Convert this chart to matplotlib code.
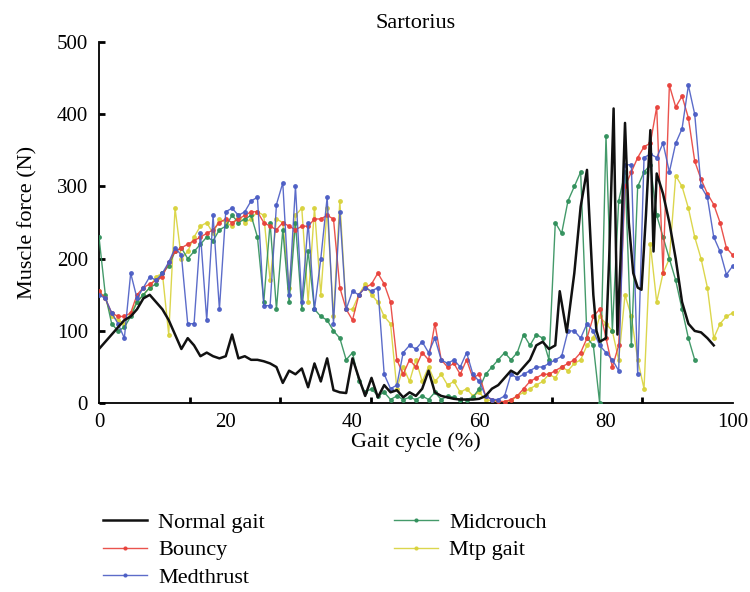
import numpy as np
import matplotlib
matplotlib.use("Agg")
import matplotlib.pyplot as plt

plt.rcParams['font.family'] = ['Liberation Serif', 'DejaVu Serif']

title = "Sartorius"
xlabel = "Gait cycle (%)"
ylabel = "Muscle force (N)"
series_names = ["Normal gait", "Bouncy", "Medthrust", "Midcrouch", "Mtp gait"]
series_colors = ["#111111", "#e8403a", "#4a5cc4", "#2f8f5a", "#d8d23a"]

# Normal gait (irregular sampling in the swing burst)
normal_x = list(range(0, 73)) + [72.7, 73.8, 75, 76, 77, 78, 78.5, 79, 80, 80.5, 81.2, 81.8,
                                 82.3, 83, 83.6, 84.3, 85, 85.6, 86.3, 87, 87.5, 88, 89, 90,
                                 91, 92, 93, 94, 95, 96, 97]
normal_y = [75, 85, 95, 105, 115, 120, 130, 145, 150, 140, 130, 115, 95, 75, 90, 80, 65, 70,
            65, 62, 65, 95, 62, 65, 60, 60, 58, 55, 50, 28, 45, 40, 48, 22, 55, 30, 62, 18,
            15, 14, 62, 35, 10, 35, 8, 25, 15, 18, 8, 15, 10, 20, 45, 15, 10, 8, 6, 5, 5, 5,
            6, 10, 20, 25, 35, 45, 40, 50, 60, 80, 85, 75, 80,
            155, 98, 180, 272, 323, 150, 100, 85, 90, 200, 408, 95,
            200, 388, 250, 180, 160, 157, 260, 378, 210, 318, 290, 250,
            200, 140, 110, 100, 98, 90, 80]

pct = list(range(0, 101))

bouncy = [155, 145, 125, 120, 120, 125, 150, 160, 165, 170, 175, 195, 210, 215, 220, 225,
          230, 235, 240, 250, 255, 250, 255, 260, 265, 265, 250, 245, 240, 250, 245, 240,
          245, 245, 255, 255, 260, 255, 160, 130, 115, 150, 160, 165, 180, 165, 140, 60,
          40, 60, 50, 70, 60, 110, 60, 50, 55, 40, 60, 35, 40, 10, 5, 3, 2, 5, 10, 20, 30,
          35, 40, 40, 45, 50, 55, 60, 70, 90, 120, 130, 90, 50, 80, 300, 320, 340, 355,
          360, 410, 180, 440, 410, 425, 395, 335, 310, 290, 275, 250, 215, 205]

medthrust = [150, 145, 125, 110, 90, 180, 145, 160, 175, 170, 180, 195, 215, 205, 110, 110,
             235, 115, 260, 130, 265, 270, 260, 265, 280, 285, 135, 135, 275, 305, 150, 300,
             140, 250, 130, 200, 285, 110, 265, 130, 155, 150, 160, 155, 160, 40, 20, 25, 70,
             80, 75, 85, 70, 90, 60, 55, 60, 50, 70, 40, 30, 10, 5, 5, 10, 40, 35, 40, 45, 50,
             50, 55, 60, 65, 100, 100, 90, 110, 100, 80, 70, 60, 45, 330, 330, 40, 340, 345,
             340, 360, 320, 360, 380, 440, 400, 300, 285, 230, 210, 178, 190]

midcrouch = [230, 150, 110, 100, 105, 120, 140, 150, 160, 165, 180, 190, 210, 215, 200, 210,
             220, 230, 225, 240, 245, 260, 250, 255, 260, 230, 140, 250, 130, 240, 140, 250,
             130, 210, 130, 120, 115, 100, 90, 60, 70, 30, 15, 20, 10, 15, 5, 10, 5, 8, 5,
             10, 5, 15, 5, 10, 8, 5, 5, 8, 20, 40, 50, 60, 70, 60, 70, 95, 80, 95, 90, 60,
             250, 235, 280, 300, 320, 90, 80, 0, 370, 100, 280, 320, 80, 300, 320, 330, 260,
             230, 200, 170, 130, 90, 60]

mtp = [155, 145, 120, 115, 110, 125, 140, 150, 160, 175, 180, 95, 270, 200, 210, 230, 245,
       250, 235, 255, 250, 245, 260, 250, 255, 265, 260, 170, 255, 250, 160, 260, 270, 140,
       270, 150, 270, 120, 280, 130, 130, 150, 165, 150, 140, 120, 110, 20, 50, 30, 60, 30,
       50, 30, 40, 25, 30, 15, 20, 10, 15, 5, 3, 2, 2, 3, 10, 15, 20, 25, 30, 40, 35, 50,
       45, 55, 60, 80, 90, 120, 110, 100, 60, 150, 120, 60, 20, 220, 140, 180, 200, 315,
       300, 270, 230, 200, 160, 90, 110, 120, 125]

fig = plt.figure(figsize=(7.5, 5.92), dpi=100)
ax = fig.add_axes([0.132, 0.319, 0.845, 0.61])

handles = []
h, = ax.plot(normal_x, normal_y, color=series_colors[0], lw=1.8, zorder=6)
handles.append(h)
colored = [bouncy, medthrust, midcrouch, mtp]
zs = [4, 5, 3, 2]
for vals, col, z in zip(colored, series_colors[1:], zs):
    h, = ax.plot(pct[:len(vals)], vals, color=col, lw=1.0, marker='o', ms=2.5,
                 mec=col, mfc=col, zorder=z, alpha=0.9)
    handles.append(h)

ax.set_xlim(0, 100)
ax.set_ylim(0, 500)
for s in ['top', 'right']:
    ax.spines[s].set_visible(False)
for s in ['left', 'bottom']:
    ax.spines[s].set_linewidth(1.3)

ax.set_xticks([0, 20, 40, 60, 80, 100])
ax.tick_params(axis='x', which='major', length=0, labelsize=15, pad=7)
ax.set_xticks(np.arange(0, 100.01, 100 / 7), minor=True)
ax.tick_params(axis='x', which='minor', length=4, width=2, direction='in')
ax.set_yticks([0, 100, 200, 300, 400, 500])
ax.tick_params(axis='y', which='major', length=4, width=2, direction='in', labelsize=15, pad=8)

ax.set_xlabel(xlabel, fontsize=16, labelpad=0)
ax.set_ylabel(ylabel, fontsize=16, labelpad=14)
ax.set_title(title, fontsize=16, pad=10)

fig.legend(handles, series_names, loc='upper left', bbox_to_anchor=(0.122, 0.153),
           ncol=2, frameon=False, fontsize=16, handlelength=2.0, handletextpad=0.5,
           columnspacing=5.8, labelspacing=0.3, borderpad=0, markerscale=0.8)

fig.savefig("out.png", dpi=100)
